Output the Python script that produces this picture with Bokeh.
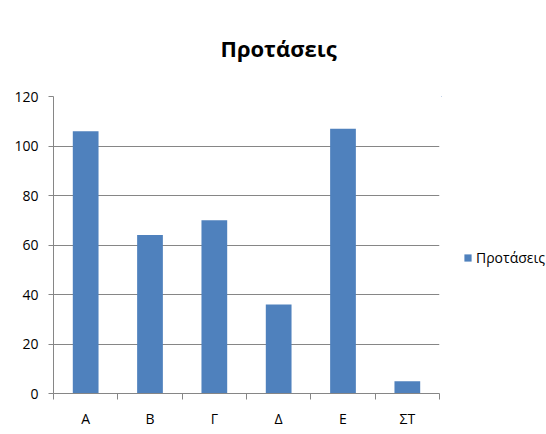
from bokeh.plotting import figure
from bokeh.layouts import row
from bokeh.models import FixedTicker, Legend, LegendItem, ColumnDataSource, Range1d, Title
from bokeh.embed import file_html
from bokeh.resources import INLINE

title_text = "Προτάσεις"
series_name = "Προτάσεις"
categories = ["Α", "Β", "Γ", "Δ", "Ε", "ΣΤ"]
values = [106, 64, 70, 36, 107, 5]
y_ticks = [0, 20, 40, 60, 80, 100, 120]

FONT = "Open Sans"
GRAY = "#868686"
BLUE = "#4f81bd"

centers = [i + 0.5 for i in range(len(categories))]
bounds = list(range(len(categories) + 1))

src = ColumnDataSource(dict(x=centers, top=values))

p = figure(width=441, height=434, output_backend="svg", toolbar_location=None,
           x_range=Range1d(0, len(categories)), y_range=Range1d(0, 120),
           min_border_left=53, min_border_right=2, min_border_top=96, min_border_bottom=41)
p.outline_line_color = None
p.background_fill_color = "white"
p.border_fill_color = "white"

r = p.vbar(x="x", top="top", width=0.4, bottom=0, source=src, fill_color=BLUE, line_color=None)

# axes
p.xaxis.ticker = FixedTicker(ticks=centers, minor_ticks=bounds)
p.xaxis.major_label_overrides = {c: lab for c, lab in zip(centers, categories)}
p.xaxis.major_tick_line_color = None
p.xaxis.major_tick_out = 0
p.xaxis.major_tick_in = 0
p.xaxis.minor_tick_line_color = GRAY
p.xaxis.minor_tick_out = 6
p.xaxis.minor_tick_in = 0
p.xaxis.axis_line_color = GRAY
p.xaxis.major_label_standoff = 9

p.yaxis.ticker = FixedTicker(ticks=y_ticks)
p.yaxis.major_tick_out = 5
p.yaxis.major_tick_in = 0
p.yaxis.minor_tick_line_color = None
p.yaxis.major_tick_line_color = GRAY
p.yaxis.axis_line_color = GRAY
p.yaxis.major_label_standoff = 10

for ax in (p.xaxis, p.yaxis):
    ax.major_label_text_font = FONT
    ax.major_label_text_font_size = "14px"
    ax.major_label_text_color = "#000000"

p.xgrid.grid_line_color = None
p.ygrid.grid_line_color = GRAY
p.ygrid.grid_line_width = 1

# title: a blank spacer title next to the frame, the real title above it
p.add_layout(Title(text=" ", text_font=FONT, text_font_size="12px"), "above")
p.add_layout(Title(text=title_text, align="left", offset=167,
                   text_font=FONT, text_font_size="22px", text_font_style="bold",
                   text_color="#000000"), "above")

# legend panel (separate figure so the legend is not clipped)
q = figure(width=105, height=434, output_backend="svg", toolbar_location=None,
           x_range=Range1d(100, 101), y_range=Range1d(-2, -1), min_border=0)
q.axis.visible = False
q.grid.visible = False
q.outline_line_color = None
q.background_fill_color = "white"
q.border_fill_color = "white"
rq = q.vbar(x="x", top="top", width=0.4, bottom=0, source=src, fill_color=BLUE, line_color=None)

legend = Legend(items=[LegendItem(label=series_name, renderers=[rq])],
                location=(22, 126), orientation="vertical",
                padding=0, margin=0, spacing=0,
                glyph_width=9, glyph_height=9, label_standoff=4,
                label_text_font=FONT, label_text_font_size="14px",
                label_text_color="#000000",
                label_height=18, border_line_color=None, background_fill_alpha=0)
q.add_layout(legend, "center")

layout = row(p, q, spacing=0)
open("out.html", "w").write(file_html(layout, INLINE))
